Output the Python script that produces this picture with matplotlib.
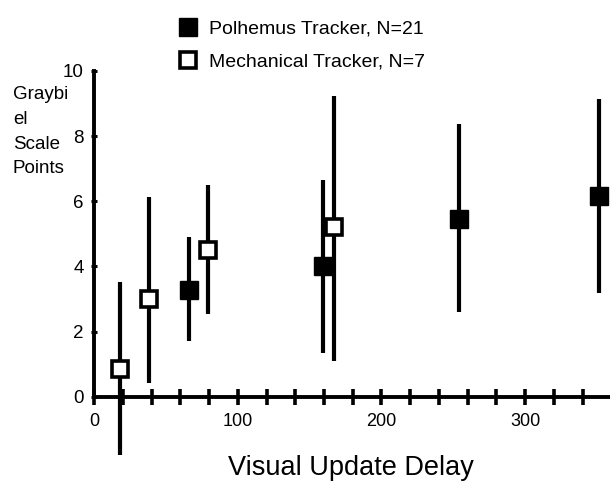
import numpy as np
import matplotlib
matplotlib.use('Agg')
import matplotlib.pyplot as plt
from matplotlib.lines import Line2D
from matplotlib.ticker import MultipleLocator

plt.rcParams['font.family'] = ['Liberation Sans', 'DejaVu Sans']

# Polhemus tracker (filled squares): delay, mean, low end, high end
polh_delay = [66, 159, 254, 351]
polh_mean = [3.28, 4.0, 5.46, 6.15]
polh_low = [1.71, 1.35, 2.6, 3.19]
polh_high = [4.89, 6.66, 8.36, 9.13]

# Mechanical tracker (open squares)
mech_delay = [18, 38, 79, 167]
mech_mean = [0.85, 3.0, 4.51, 5.2]
mech_low = [-1.8, 0.41, 2.55, 1.1]
mech_high = [3.52, 6.12, 6.5, 9.23]

legend_labels = ['Polhemus Tracker, N=21', 'Mechanical Tracker, N=7']

fig = plt.figure(figsize=(6.1, 4.84), dpi=100)
ax = fig.add_axes([0.1541, 0.1804, 0.846, 0.673])

def asym(mean, low, high):
    mean = np.array(mean)
    return [mean - np.array(low), np.array(high) - mean]

ax.errorbar(mech_delay, mech_mean, yerr=asym(mech_mean, mech_low, mech_high),
            fmt='s', color='black', ms=12, mfc='white', mec='black', mew=2.6,
            elinewidth=3, capsize=0, clip_on=False, zorder=3)
ax.errorbar(polh_delay, polh_mean, yerr=asym(polh_mean, polh_low, polh_high),
            fmt='s', color='black', ms=13.5, mfc='black', mec='black', mew=1,
            elinewidth=3, capsize=0, clip_on=False, zorder=4)

ax.set_xlim(0, 359)
ax.set_ylim(0, 10)
ax.spines['top'].set_visible(False)
ax.spines['right'].set_visible(False)
ax.spines['left'].set_linewidth(2.8)
ax.spines['bottom'].set_linewidth(2.8)

ax.set_yticks([0, 2, 4, 6, 8, 10])
ax.xaxis.set_major_locator(MultipleLocator(100))
ax.xaxis.set_minor_locator(MultipleLocator(20))
ax.tick_params(axis='x', which='both', direction='inout', length=12, width=2.6,
               labelsize=13, pad=6)
ax.tick_params(axis='y', direction='inout', length=5, width=2.2,
               labelsize=13.5, pad=5)

fig.text(13 / 610, 1 - 86 / 484, 'Graybi\nel\nScale\nPoints', ha='left', va='top',
         fontsize=13.5, linespacing=1.6)
fig.text(351 / 610, 1 - 468 / 484, 'Visual Update Delay', ha='center', va='center',
         fontsize=19.5)

handles = [Line2D([], [], marker='s', ls='none', ms=13.5, mfc='black', mec='black'),
           Line2D([], [], marker='s', ls='none', ms=12, mfc='white', mec='black', mew=2.6)]
ax.legend(handles, legend_labels, loc='upper left',
          bbox_to_anchor=(179 / 610, 1 - 20 / 484), bbox_transform=fig.transFigure,
          frameon=False, fontsize=14, borderpad=0, borderaxespad=0,
          handlelength=0.95, handletextpad=0.6, labelspacing=0.8)

fig.savefig('out.png', dpi=100)
